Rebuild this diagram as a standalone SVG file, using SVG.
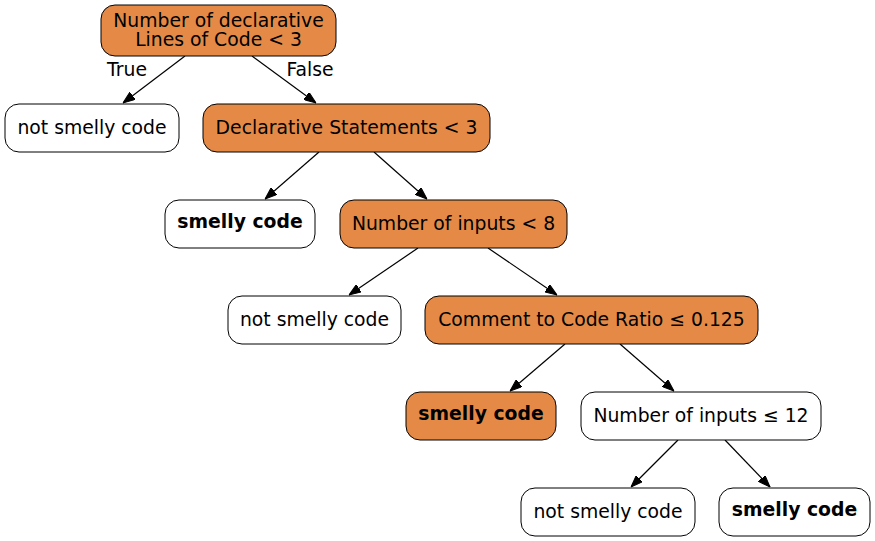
<svg xmlns="http://www.w3.org/2000/svg" width="875" height="541" viewBox="0 0 875 541">
<style>
.box{stroke:#000;stroke-width:1}
.o{fill:#e58a46}
.w{fill:#fff}
text{font-family:"DejaVu Sans",sans-serif;font-size:18.8px;text-anchor:middle;fill:#000}
.b{font-weight:bold}
.e{stroke:#000;stroke-width:1.2;fill:none;marker-end:url(#ah)}
</style>
<defs>
<marker id="ah" viewBox="0 0 12 9" refX="12" refY="4.5" markerWidth="12" markerHeight="9" markerUnits="userSpaceOnUse" orient="auto">
<path d="M0,0 L12,4.5 L0,9 Z" fill="#000" stroke="#000"/>
</marker>
</defs>
<rect width="875" height="541" fill="#fff"/>
<g id="edges">
<path class="e" d="M185,56 L123,103"/>
<path class="e" d="M252,56 L316,103"/>
<path class="e" d="M319,152 L265,199"/>
<path class="e" d="M374,152 L427,199"/>
<path class="e" d="M418,248 L349,295"/>
<path class="e" d="M488,248 L557,295"/>
<path class="e" d="M565,344 L510,391"/>
<path class="e" d="M620,344 L674,391"/>
<path class="e" d="M678,440 L631,487"/>
<path class="e" d="M725,440 L770,487"/>
<text x="127" y="76">True</text>
<text x="310" y="76">False</text>
</g>
<g id="n0"><rect class="box o" x="101" y="5" width="235" height="51" rx="14"/><text x="218.5" y="26.5">Number of declarative</text><text x="218.5" y="45.5">Lines of Code &lt; 3</text></g>
<g id="n1"><rect class="box w" x="5" y="104" width="174" height="48" rx="14"/><text x="92" y="133.5">not smelly code</text></g>
<g id="n2"><rect class="box o" x="203" y="104" width="287" height="48" rx="14"/><text x="346.5" y="133.5">Declarative Statements &lt; 3</text></g>
<g id="n3"><rect class="box w" x="165" y="200" width="150" height="48" rx="14"/><text class="b" x="240" y="228">smelly code</text></g>
<g id="n4"><rect class="box o" x="340" y="200" width="227" height="48" rx="14"/><text x="453.5" y="229.5">Number of inputs &lt; 8</text></g>
<g id="n5"><rect class="box w" x="228" y="296" width="173" height="48" rx="14"/><text x="314.5" y="325.5">not smelly code</text></g>
<g id="n6"><rect class="box o" x="425" y="296" width="333" height="48" rx="14"/><text x="591.5" y="325.5">Comment to Code Ratio ≤ 0.125</text></g>
<g id="n7"><rect class="box o" x="406" y="392" width="150" height="48" rx="14"/><text class="b" x="481" y="420">smelly code</text></g>
<g id="n8"><rect class="box w" x="581" y="392" width="240" height="48" rx="14"/><text x="701" y="421.5">Number of inputs ≤ 12</text></g>
<g id="n9"><rect class="box w" x="521" y="488" width="174" height="48" rx="14"/><text x="608" y="517.5">not smelly code</text></g>
<g id="n10"><rect class="box w" x="719" y="488" width="151" height="48" rx="14"/><text class="b" x="794.5" y="516">smelly code</text></g>
</svg>
